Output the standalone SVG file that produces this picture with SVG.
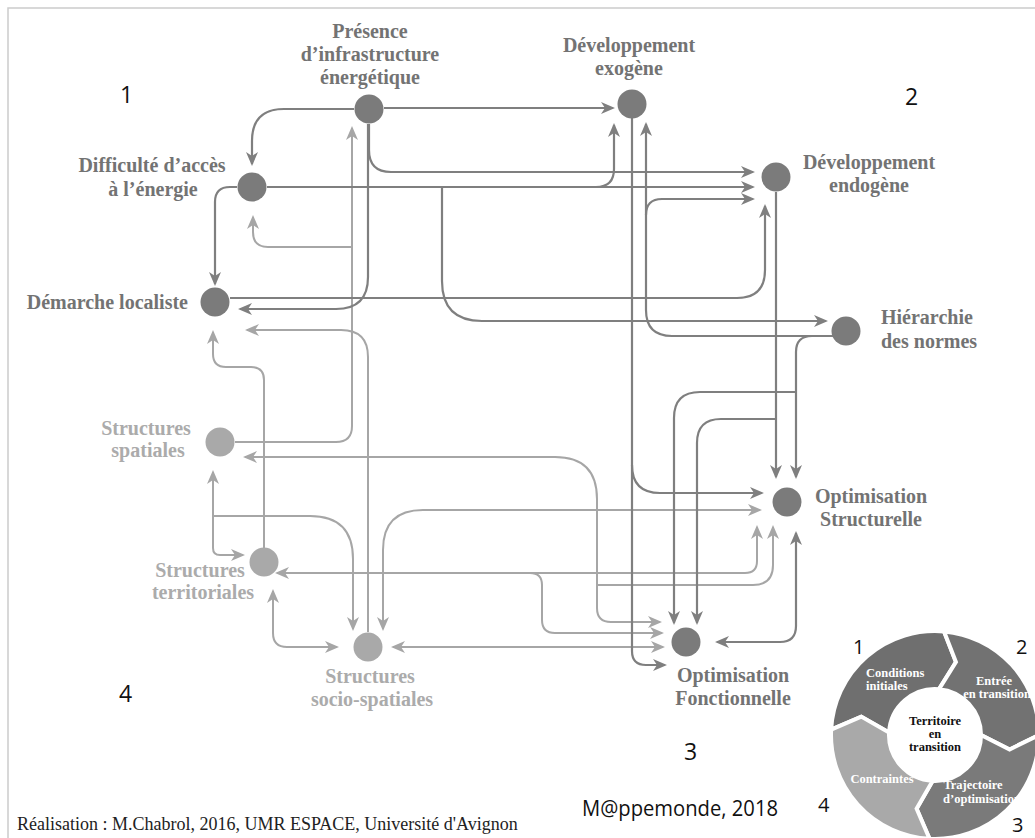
<svg xmlns="http://www.w3.org/2000/svg" width="1035" height="838" viewBox="0 0 1035 838">
<style>
.dt{font-family:"Liberation Serif",serif;font-weight:bold;font-size:20px;fill:#737373;text-anchor:middle}
.lt{font-family:"Liberation Serif",serif;font-weight:bold;font-size:20px;fill:#ababab;text-anchor:middle}
.dn{fill:#7b7b7b}
.ln{fill:#a9a9a9}
.d{fill:none;stroke:#7f7f7f;stroke-width:2.2}
.l{fill:none;stroke:#a6a6a6;stroke-width:2}
.num{font-family:"Open Sans","Liberation Sans",sans-serif;font-size:23px;fill:#111}
.cw{font-family:"Liberation Serif",serif;font-weight:bold;font-size:12.5px;fill:#fff;text-anchor:middle}
.cb{font-family:"Liberation Serif",serif;font-weight:bold;font-size:12.5px;fill:#111;text-anchor:middle}
.seg{stroke:#fff;stroke-width:4;stroke-linejoin:miter}
</style>
<defs>
<marker id="ad" viewBox="0 0 14 12" refX="12" refY="6" markerWidth="14" markerHeight="12" markerUnits="userSpaceOnUse" orient="auto-start-reverse"><path d="M0,0 L14,6 L0,12 L4,6 Z" fill="#7f7f7f"/></marker>
<marker id="al" viewBox="0 0 14 12" refX="12" refY="6" markerWidth="14" markerHeight="12" markerUnits="userSpaceOnUse" orient="auto-start-reverse"><path d="M0,0 L14,6 L0,12 L4,6 Z" fill="#a6a6a6"/></marker>
</defs>
<rect width="1035" height="838" fill="#fff"/>
<path d="M8,838 V8 H1035" fill="none" stroke="#cccccc" stroke-width="1.5"/>

<g id="connectors">
<g class="light">
<path class="l" d="M368,632 V357 Q368,330 341,330 H247" marker-end="url(#al)"/>
<path class="l" d="M235,442 H336 Q352,442 352,426 V128" marker-end="url(#al)"/>
<path class="l" d="M352,247 H268 Q253,247 253,232 V217" marker-end="url(#al)"/>
<path class="l" d="M264,550 V380 Q264,367 251,367 H226 Q213,367 213,354 V332" marker-end="url(#al)"/>
<path class="l" d="M213,472 V548 Q213,555 220,555 H243" marker-start="url(#al)" marker-end="url(#al)"/>
<path class="l" d="M213,516 H310 Q353,516 353,559 V629" marker-end="url(#al)"/>
<path class="l" d="M273,591 V633 Q273,647 287,647 H337" marker-start="url(#al)" marker-end="url(#al)"/>
<path class="l" d="M245,457 H555 Q597,457 597,499 V608 Q597,622 611,622 H660" marker-start="url(#al)" marker-end="url(#al)"/>
<path class="l" d="M597,585 H753 Q773,585 773,565 V527" marker-end="url(#al)"/>
<path class="l" d="M383,629 V550 Q383,510 423,510 H760" marker-start="url(#al)" marker-end="url(#al)"/>
<path class="l" d="M277,573 H530 Q542,573 542,585 V620 Q542,633 555,633 H662" marker-start="url(#al)" marker-end="url(#al)"/>
<path class="l" d="M530,573 H745 Q757,573 757,561 V527" marker-end="url(#al)"/>
<path class="l" d="M393,647 H663" marker-start="url(#al)" marker-end="url(#al)"/>
</g>
<g class="dark">
<path class="d" d="M354,109 H284 Q252,109 252,141 V164" marker-end="url(#ad)"/>
<path class="d" d="M384,108 H613" marker-end="url(#ad)"/>
<path class="d" d="M369,124 V150 Q369,172 391,172 H753" marker-end="url(#ad)"/>
<path class="d" d="M368,124 V277 Q368,309 336,309 H240" marker-end="url(#ad)"/>
<path class="d" d="M237,187 H230 Q215,187 215,202 V284" marker-end="url(#ad)"/>
<path class="d" d="M267,187 H596 Q614,187 614,169 V125" marker-end="url(#ad)"/>
<path class="d" d="M267,187 H753" marker-end="url(#ad)"/>
<path class="d" d="M442,187 V281 Q442,321 482,321 H826" marker-end="url(#ad)"/>
<path class="d" d="M230,298 H737 Q765,298 765,270 V206" marker-end="url(#ad)"/>
<path class="d" d="M632,118 V651 Q632,665 646,665 H665" marker-end="url(#ad)"/>
<path class="d" d="M632,465 Q632,493 660,493 H762" marker-end="url(#ad)"/>
<path class="d" d="M776,192 V477" marker-end="url(#ad)"/>
<path class="d" d="M776,419 H721 Q697,419 697,443 V623" marker-end="url(#ad)"/>
<path class="d" d="M840,336 H812 Q796,336 796,352 V477" marker-end="url(#ad)"/>
<path class="d" d="M796,392 H700 Q674,392 674,418 V623" marker-end="url(#ad)"/>
<path class="d" d="M840,336 H672 Q646,336 646,310 V124" marker-end="url(#ad)"/>
<path class="d" d="M646,215 Q646,199 662,199 H753" marker-end="url(#ad)"/>
<path class="d" d="M717,642 H780 Q796,642 796,626 V533" marker-start="url(#ad)" marker-end="url(#ad)"/>
</g>
</g>

<g id="n-presence"><circle class="dn" cx="369" cy="109" r="14.5"/>
<text class="dt" x="370" y="38">Présence</text><text class="dt" x="370" y="61">d’infrastructure</text><text class="dt" x="370" y="84">énergétique</text></g>
<g id="n-difficulte"><circle class="dn" cx="252" cy="187" r="14.5"/>
<text class="dt" x="152" y="172">Difficulté d’accès</text><text class="dt" x="153" y="196">à l’énergie</text></g>
<g id="n-demarche"><circle class="dn" cx="215" cy="302" r="14.5"/>
<text class="dt" x="188" y="309" style="text-anchor:end">Démarche localiste</text></g>
<g id="n-exogene"><circle class="dn" cx="632" cy="104" r="14.5"/>
<text class="dt" x="629" y="52">Développement</text><text class="dt" x="629" y="75">exogène</text></g>
<g id="n-endogene"><circle class="dn" cx="776" cy="177" r="14.5"/>
<text class="dt" x="869" y="169">Développement</text><text class="dt" x="869" y="192">endogène</text></g>
<g id="n-hierarchie"><circle class="dn" cx="846" cy="331" r="14.5"/>
<text class="dt" x="881" y="324" style="text-anchor:start">Hiérarchie</text><text class="dt" x="881" y="348" style="text-anchor:start">des normes</text></g>
<g id="n-optstruct"><circle class="dn" cx="787" cy="502" r="14.5"/>
<text class="dt" x="871" y="503">Optimisation</text><text class="dt" x="871" y="526">Structurelle</text></g>
<g id="n-optfonct"><circle class="dn" cx="686" cy="642" r="14.5"/>
<text class="dt" x="733" y="682">Optimisation</text><text class="dt" x="733" y="705">Fonctionnelle</text></g>
<g id="n-spatiales"><circle class="ln" cx="220" cy="442" r="14.5"/>
<text class="lt" x="146" y="435">Structures</text><text class="lt" x="148" y="457">spatiales</text></g>
<g id="n-territoriales"><circle class="ln" cx="264" cy="562" r="14.5"/>
<text class="lt" x="200" y="577">Structures</text><text class="lt" x="203" y="599">territoriales</text></g>
<g id="n-socio"><circle class="ln" cx="368" cy="647" r="14.5"/>
<text class="lt" x="370" y="683">Structures</text><text class="lt" x="372" y="706">socio-spatiales</text></g>

<g id="quadrant-numbers">
<text class="num" x="120" y="103">1</text>
<text class="num" x="905" y="105">2</text>
<text class="num" x="119" y="702">4</text>
<text class="num" x="684" y="760">3</text>
</g>

<g id="cycle">
<path class="seg" fill="#6f6f6f" d="M831.14,729.56 A104,104 0 0 1 944.06,631.40 L955.95,661.94 L939.01,689.18 A46,46 0 0 0 889.06,732.59 L861.26,716.61 Z"/>
<path class="seg" fill="#727272" d="M944.06,631.40 A104,104 0 0 1 1039,735 L1009.60,749.50 L981,735 A46,46 0 0 0 939.01,689.18 L955.95,661.94 Z"/>
<path class="seg" fill="#7a7a7a" d="M1039,735 A104,104 0 0 1 929.56,838.86 L916.61,808.74 L932.59,780.94 A46,46 0 0 0 981,735 L1009.60,749.50 Z"/>
<path class="seg" fill="#a9a9a9" d="M929.56,838.86 A104,104 0 0 1 831.14,729.56 L861.26,716.61 L889.06,732.59 A46,46 0 0 0 932.59,780.94 L916.61,808.74 Z"/>
<text class="cw" x="866" y="677" style="text-anchor:start">Conditions</text>
<text class="cw" x="866" y="690" style="text-anchor:start">initiales</text>
<text class="cw" x="994" y="685">Entrée</text>
<text class="cw" x="997" y="698">en transition</text>
<text class="cb" x="935" y="725">Territoire</text>
<text class="cb" x="935" y="738">en</text>
<text class="cb" x="935" y="751">transition</text>
<text class="cw" x="882" y="783">Contraintes</text>
<text class="cw" x="973" y="789">Trajectoire</text>
<text class="cw" x="982" y="803">d’optimisation</text>
<text class="num" x="853" y="654" style="font-size:20px">1</text>
<text class="num" x="1016" y="654" style="font-size:20px">2</text>
<text class="num" x="818" y="812" style="font-size:20px">4</text>
<text class="num" x="1012" y="832" style="font-size:20px">3</text>
</g>

<text x="582" y="816" style="font-family:'Open Sans','Liberation Sans',sans-serif;font-size:21px;fill:#111" textLength="196" lengthAdjust="spacingAndGlyphs">M@ppemonde, 2018</text>
<text x="17" y="830" style="font-family:'Liberation Serif',serif;font-size:18px;fill:#222">Réalisation : M.Chabrol, 2016, UMR ESPACE, Université d'Avignon</text>
</svg>
